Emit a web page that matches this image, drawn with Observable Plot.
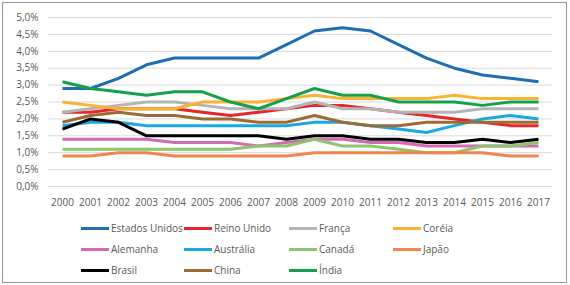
<!DOCTYPE html>
<html>
<head>
<meta charset="utf-8">
<script src="https://cdn.jsdelivr.net/npm/d3@7"></script>
<script src="https://cdn.jsdelivr.net/npm/@observablehq/plot@0.6"></script>
<style>
  html, body { margin: 0; padding: 0; background: #fff; }
  #wrap { position: relative; width: 570px; height: 285px; overflow: hidden; background: #fff; font-family: "Open Sans", sans-serif; }
  #frame { position: absolute; left: 2px; top: 2px; width: 563px; height: 279px; border: 1px solid #8d99ae; pointer-events: none; }
  #chart { position: absolute; left: 0; top: 0; }
  .item { position: absolute; display: flex; align-items: center; font-size: 10px; color: #595959; white-space: nowrap; }
  .sw { width: 28px; height: 3px; margin-right: 2px; }
</style>
</head>
<body>
<div id="wrap"><div id="chart"></div><div id="legend"></div><div id="frame"></div></div>
<script>
const years = [2000,2001,2002,2003,2004,2005,2006,2007,2008,2009,2010,2011,2012,2013,2014,2015,2016,2017];
const countries = ["Estados Unidos","Reino Unido","França","Coréia","Alemanha","Austrália","Canadá","Japão","Brasil","China","Índia"];
const colors = ["#1f6db3","#e5262b","#b4b4b4","#f9b233","#d46ab4","#1ba8e0","#8cc56b","#f0854e","#000000","#9b6b34","#17a04c"];

const estadosUnidos = [2.9,2.9,3.2,3.6,3.8,3.8,3.8,3.8,4.2,4.6,4.7,4.6,4.2,3.8,3.5,3.3,3.2,3.1];
const reinoUnido    = [2.2,2.2,2.3,2.3,2.3,2.2,2.1,2.2,2.3,2.4,2.4,2.3,2.2,2.1,2.0,1.9,1.8,1.8];
const franca        = [2.2,2.3,2.4,2.5,2.5,2.4,2.3,2.3,2.3,2.5,2.3,2.3,2.2,2.2,2.2,2.3,2.3,2.3];
const coreia        = [2.5,2.4,2.3,2.3,2.3,2.5,2.5,2.5,2.6,2.7,2.6,2.6,2.6,2.6,2.7,2.6,2.6,2.6];
const alemanha      = [1.4,1.4,1.4,1.4,1.3,1.3,1.3,1.2,1.3,1.4,1.4,1.3,1.3,1.2,1.2,1.2,1.2,1.2];
const australia     = [1.8,1.9,1.9,1.8,1.8,1.8,1.8,1.8,1.8,1.9,1.9,1.8,1.7,1.6,1.8,2.0,2.1,2.0];
const canada        = [1.1,1.1,1.1,1.1,1.1,1.1,1.1,1.2,1.2,1.4,1.2,1.2,1.1,1.0,1.0,1.2,1.2,1.3];
const japao         = [0.9,0.9,1.0,1.0,0.9,0.9,0.9,0.9,0.9,1.0,1.0,1.0,1.0,1.0,1.0,1.0,0.9,0.9];
const brasil        = [1.7,2.0,1.9,1.5,1.5,1.5,1.5,1.5,1.4,1.5,1.5,1.4,1.4,1.3,1.3,1.4,1.3,1.4];
const china         = [1.9,2.1,2.2,2.1,2.1,2.0,2.0,1.9,1.9,2.1,1.9,1.8,1.8,1.9,1.9,1.9,1.9,1.9];
const india         = [3.1,2.9,2.8,2.7,2.8,2.8,2.5,2.3,2.6,2.9,2.7,2.7,2.5,2.5,2.5,2.4,2.5,2.5];

const yTicks = [0,0.5,1,1.5,2,2.5,3,3.5,4,4.5,5];

const seriesValues = [estadosUnidos,reinoUnido,franca,coreia,alemanha,australia,canada,japao,brasil,china,india];
const data = [];
countries.forEach((c, i) => seriesValues[i].forEach((v, j) => data.push({country: c, year: years[j], value: v})));

const fmt = d => d.toFixed(1).replace(".", ",") + "%";

const plot = Plot.plot({
  width: 570,
  height: 215,
  marginLeft: 48,
  marginRight: 18,
  marginTop: 17,
  marginBottom: 29,
  style: {fontFamily: "Open Sans", fontSize: "10px", color: "#595959", background: "transparent"},
  x: {type: "point", domain: years, padding: 0.5, label: null},
  y: {domain: [0, 5], label: null},
  color: {domain: countries, range: colors},
  marks: [
    Plot.ruleY(yTicks, {stroke: "#d9d9d9", strokeWidth: 1}),
    Plot.axisY(yTicks, {tickSize: 0, tickPadding: 10, tickFormat: fmt, label: null, fill: "#595959"}),
    Plot.axisX(years, {tickSize: 0, tickPadding: 12, tickFormat: d => String(d), label: null, fill: "#595959"}),
    Plot.line(data, {x: "year", y: "value", z: "country", stroke: "country", strokeWidth: 3, strokeLinejoin: "round", strokeLinecap: "butt"})
  ]
});
document.getElementById("chart").appendChild(plot);

const legend = document.getElementById("legend");
const colX = [81, 184, 289, 393];
const rowY = [228, 249, 270];
countries.forEach((c, i) => {
  const el = document.createElement("div");
  el.className = "item";
  el.style.left = colX[i % 4] + "px";
  el.style.top = (rowY[Math.floor(i / 4)] - 8) + "px";
  el.style.height = "16px";
  const sw = document.createElement("span");
  sw.className = "sw";
  sw.style.background = colors[i];
  const t = document.createElement("span");
  t.textContent = c;
  el.appendChild(sw);
  el.appendChild(t);
  legend.appendChild(el);
});
</script>
</body>
</html>
